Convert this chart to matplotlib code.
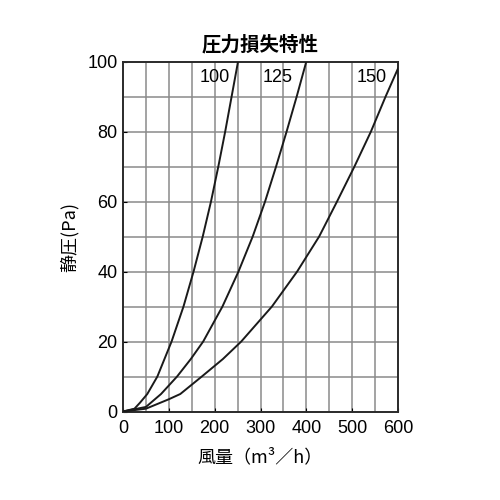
import matplotlib
matplotlib.use("Agg")
import matplotlib.pyplot as plt

plt.rcParams['font.family'] = ['Liberation Sans', 'Noto Sans CJK JP', 'DejaVu Sans']

title = "圧力損失特性"
xlabel = "風量（m³／h）"
ylabel = "静圧(Pa)"
xticks = [0, 100, 200, 300, 400, 500, 600]
yticks = [0, 20, 40, 60, 80, 100]

q100 = [0, 25, 37, 53, 75, 106, 132, 154, 174, 192, 208, 223, 237, 251]
p100 = [0, 0.8, 2.5, 5, 10, 20, 30, 40, 50, 60, 70, 80, 90, 100]
q125 = [0, 50, 83, 118, 148, 175, 217, 252, 283, 310, 334, 357, 379, 400]
p125 = [0, 1.3, 5, 10, 15, 20, 30, 40, 50, 60, 70, 80, 90, 100]
q150 = [0, 50, 100, 125, 172, 218, 258, 325, 380, 428, 467, 505, 541, 573, 600]
p150 = [0, 0.8, 3.5, 5, 10, 15, 20, 30, 40, 50, 60, 70, 80, 90, 98]
series = [("100", q100, p100, 234), ("125", q125, p125, 371), ("150", q150, p150, 575)]

fig = plt.figure(figsize=(5, 5), dpi=100)
ax = fig.add_axes([0.246, 0.177, 0.55, 0.70])
ax.set_xlim(0, 600)
ax.set_ylim(0, 100)
for x in range(50, 600, 50):
    ax.axvline(x, color='#8a8a8a', lw=1.1, zorder=1)
for y in range(10, 100, 10):
    ax.axhline(y, color='#8a8a8a', lw=1.1, zorder=1)
for name, q, p, lx in series:
    ax.plot(q, p, color='#1a1a1a', lw=1.4, zorder=3, solid_joinstyle='round')
    ax.text(lx, 95.3, name, ha='right', va='center', fontsize=13, zorder=4)
ax.set_xticks(xticks)
ax.set_yticks(yticks)
ax.tick_params(direction='in', length=3, labelsize=13, pad=4)
ax.tick_params(axis='x', pad=6)
for s in ax.spines.values():
    s.set_linewidth(1.4)
    s.set_color('#2a2a2a')
ax.set_title(title, fontsize=14, pad=8, fontweight='bold', family=['Noto Sans CJK JP'])
ax.set_xlabel(xlabel, fontsize=13, labelpad=8, family=['Noto Sans CJK JP', 'DejaVu Sans'])
ax.set_ylabel(ylabel, fontsize=13, labelpad=6, family=['Noto Sans CJK JP', 'DejaVu Sans'])
fig.savefig("out.png", dpi=100)
